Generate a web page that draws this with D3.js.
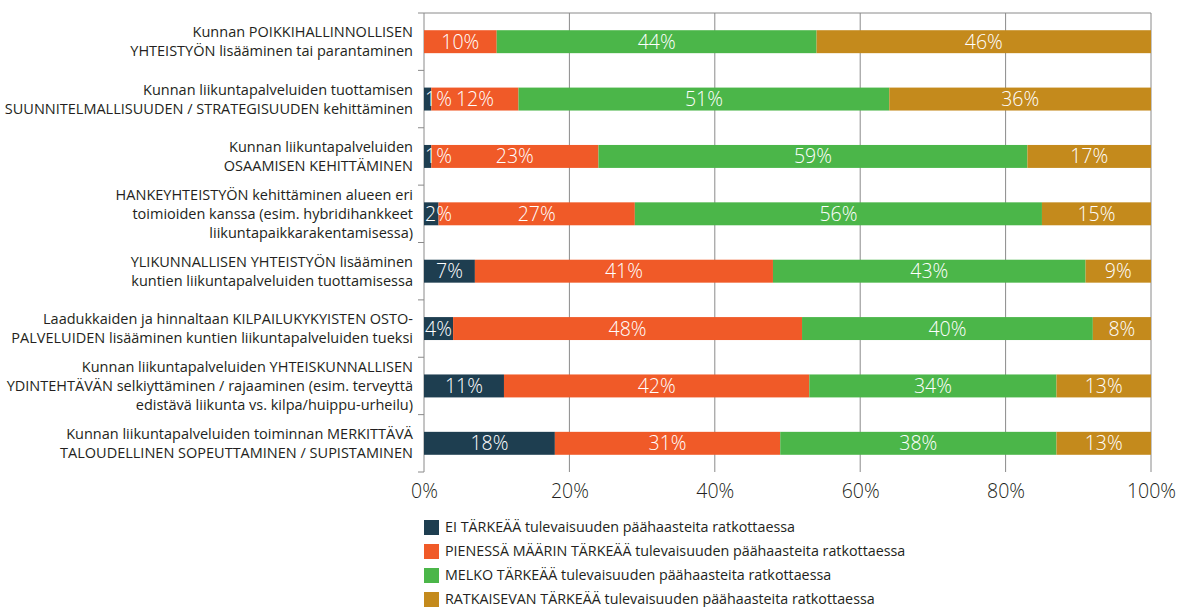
<!DOCTYPE html>
<html>
<head>
<meta charset="utf-8">
<script src="https://cdn.jsdelivr.net/npm/d3@7"></script>
<style>
  body { margin:0; background:#fff; }
  text { font-family:'Open Sans', sans-serif; }
  .cat { font-size:14.5px; fill:#231f20; }
  .val { font-size:19.5px; fill:#fff; font-weight:300; }
  .tick text { font-size:19.5px; fill:#231f20; font-weight:300; }
  .leg { font-size:14.3px; fill:#231f20; }
</style>
</head>
<body>
<svg id="viewer"></svg>
<script>
// categories, each one as its lines of text
var categories =
[
  ['Kunnan POIKKIHALLINNOLLISEN', 'YHTEISTYÖN lisääminen tai parantaminen'],
  ['Kunnan liikuntapalveluiden tuottamisen', 'SUUNNITELMALLISUUDEN / STRATEGISUUDEN kehittäminen'],
  ['Kunnan liikuntapalveluiden', 'OSAAMISEN KEHITTÄMINEN'],
  ['HANKEYHTEISTYÖN kehittäminen alueen eri', 'toimioiden kanssa (esim. hybridihankkeet', 'liikuntapaikkarakentamisessa)'],
  ['YLIKUNNALLISEN YHTEISTYÖN lisääminen', 'kuntien liikuntapalveluiden tuottamisessa'],
  ['Laadukkaiden ja hinnaltaan KILPAILUKYKYISTEN OSTO-', 'PALVELUIDEN lisääminen kuntien liikuntapalveluiden tueksi'],
  ['Kunnan liikuntapalveluiden YHTEISKUNNALLISEN', 'YDINTEHTÄVÄN selkiyttäminen / rajaaminen (esim. terveyttä', 'edistävä liikunta vs. kilpa/huippu-urheilu)'],
  ['Kunnan liikuntapalveluiden toiminnan MERKITTÄVÄ', 'TALOUDELLINEN SOPEUTTAMINEN / SUPISTAMINEN']
];

var series =
[
  'EI TÄRKEÄÄ tulevaisuuden päähaasteita ratkottaessa',
  'PIENESSÄ MÄÄRIN TÄRKEÄÄ tulevaisuuden päähaasteita ratkottaessa',
  'MELKO TÄRKEÄÄ tulevaisuuden päähaasteita ratkottaessa',
  'RATKAISEVAN TÄRKEÄÄ tulevaisuuden päähaasteita ratkottaessa'
];

// percent per category, one array per series
var eiTarkea        = [0, 1, 1, 2, 7, 4, 11, 18];
var pienessaMaarin  = [10, 12, 23, 27, 41, 48, 42, 31];
var melkoTarkea     = [44, 51, 59, 56, 43, 40, 34, 38];
var ratkaisevan     = [46, 36, 17, 15, 9, 8, 13, 13];

var xTicks = [0, 20, 40, 60, 80, 100];

var colors = ['#1e3e50', '#f05a28', '#4bb649', '#c48a1c'];

var width = 1182, height = 607;
var margin = {left:424, right:31, top:13, bottom:135};

var viewer = d3.select('#viewer')
  .attr('width', width)
  .attr('height', height);

var x = d3.scaleLinear()
  .domain([0, 100])
  .range([margin.left, width - margin.right]);

var y = d3.scaleBand()
  .domain(d3.range(categories.length))
  .range([margin.top, height - margin.bottom])
  .paddingInner(0.6)
  .paddingOuter(0.3);

var rows = categories.map(function(c, i) {
  return {i:i, v0:eiTarkea[i], v1:pienessaMaarin[i], v2:melkoTarkea[i], v3:ratkaisevan[i]};
});
var stacked = d3.stack().keys(['v0','v1','v2','v3'])(rows);

// grid
viewer.append('g')
  .selectAll('line')
  .data(xTicks.slice(1))
  .enter().append('line')
    .attr('x1', function(d){return x(d);})
    .attr('x2', function(d){return x(d);})
    .attr('y1', margin.top)
    .attr('y2', height - margin.bottom)
    .style('stroke', '#8a8a8a')
    .style('stroke-width', 1);

viewer.append('line')
  .attr('x1', x(0)).attr('x2', x(100))
  .attr('y1', margin.top).attr('y2', margin.top)
  .style('stroke', '#8a8a8a');

// left axis with band boundary ticks
viewer.append('line')
  .attr('x1', x(0)).attr('x2', x(0))
  .attr('y1', margin.top).attr('y2', height - margin.bottom)
  .style('stroke', '#8a8a8a');
viewer.append('g')
  .selectAll('line')
  .data(d3.range(categories.length + 1))
  .enter().append('line')
    .attr('x1', x(0) - 6).attr('x2', x(0))
    .attr('y1', function(k){return y.range()[0] + (y.range()[1] - y.range()[0]) * k / categories.length;})
    .attr('y2', function(k){return y.range()[0] + (y.range()[1] - y.range()[0]) * k / categories.length;})
    .style('stroke', '#8a8a8a');

// bars
var layers = viewer.selectAll('.layer')
  .data(stacked)
  .enter().append('g')
    .attr('class', 'layer')
    .style('fill', function(d, k){return colors[k];});

layers.selectAll('rect')
  .data(function(d){return d;})
  .enter().append('rect')
    .attr('x', function(d){return x(d[0]);})
    .attr('width', function(d){return x(d[1]) - x(d[0]);})
    .attr('y', function(d){return y(d.data.i);})
    .attr('height', y.bandwidth());

// value labels, drawn over all bars so narrow ones can spill over
var allSegs = [];
stacked.forEach(function(s) {
  s.forEach(function(p) { if (p[1] - p[0] > 0) allSegs.push(p); });
});

viewer.append('g')
  .selectAll('text')
  .data(allSegs)
  .enter().append('text')
    .attr('class', 'val')
    .attr('y', function(d){return y(d.data.i) + y.bandwidth() / 2;})
    .attr('dy', '0.36em')
    .text(function(d){return (d[1] - d[0]) + '%';})
    .each(function(d) {
      var w = this.getComputedTextLength();
      var x0 = x(d[0]), x1 = x(d[1]);
      if (x1 - x0 < w + 4) {
        d3.select(this).attr('x', x0 + 1).attr('text-anchor', 'start');
      } else {
        d3.select(this).attr('x', (x0 + x1) / 2).attr('text-anchor', 'middle');
      }
    });

// category labels
var lineH = 19;
viewer.append('g')
  .selectAll('text')
  .data(categories)
  .enter().append('text')
    .attr('class', 'cat')
    .attr('text-anchor', 'end')
    .attr('transform', function(d, i){
      return 'translate(' + (x(0) - 11) + ',' + (y(i) + y.bandwidth() / 2 - (d.length - 1) * lineH / 2) + ')';
    })
    .each(function(d) {
      var t = d3.select(this);
      d.forEach(function(line, j) {
        t.append('tspan').attr('x', 0).attr('y', j * lineH).attr('dy', '0.35em').text(line);
      });
    });

// x axis labels
var xAxis = viewer.append('g')
  .attr('transform', 'translate(0,' + (height - margin.bottom) + ')')
  .call(d3.axisBottom(x).tickValues(xTicks).tickSize(0).tickPadding(12).tickFormat(function(d){return d + '%';}));
xAxis.select('.domain').remove();

// legend
var legend = viewer.selectAll('.legend')
  .data(series)
  .enter().append('g')
    .attr('class', 'legend')
    .attr('transform', function(d, k){return 'translate(' + x(0) + ',' + (527 + k * 24) + ')';});

legend.append('rect')
  .attr('x', 0).attr('y', -7)
  .attr('width', 15).attr('height', 15)
  .style('fill', function(d, k){return colors[k];});

legend.append('text')
  .attr('class', 'leg')
  .attr('x', 21)
  .attr('dy', '0.35em')
  .text(function(d){return d;});
</script>
</body>
</html>
